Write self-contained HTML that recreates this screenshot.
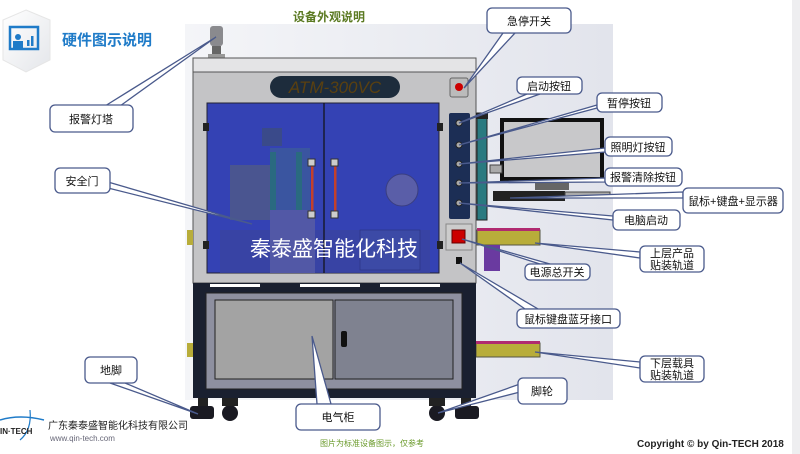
<!DOCTYPE html>
<html><head><meta charset="utf-8"><style>
body{margin:0;width:800px;height:454px;overflow:hidden;background:#fff;font-family:"Liberation Sans","Noto Sans CJK SC",sans-serif}
svg{display:block}
text{font-family:"Liberation Sans","Noto Sans CJK SC",sans-serif}
</style></head><body>
<svg width="800" height="454" viewBox="0 0 800 454" xmlns="http://www.w3.org/2000/svg">
<defs>
<linearGradient id="bg" x1="0" y1="0" x2="1" y2="0"><stop offset="0" stop-color="#f4f5f8"/><stop offset="1" stop-color="#e2e4ec"/></linearGradient>
<linearGradient id="hex" x1="0" y1="0" x2="1" y2="1"><stop offset="0" stop-color="#ffffff"/><stop offset="1" stop-color="#e4e6ea"/></linearGradient>
</defs>
<rect x="792" y="0" width="8" height="454" fill="#eeeef0"/>
<rect x="185" y="24" width="428" height="376" fill="url(#bg)"/>
<polygon points="26,10 50,20 50,60 26,72 3,60 3,20" fill="url(#hex)" stroke="#e6e6e6"/>
<rect x="10" y="27" width="28" height="22" fill="none" stroke="#1f7bc8" stroke-width="2.5"/>
<circle cx="18" cy="37" r="3" fill="#1f7bc8"/><rect x="13" y="41" width="10" height="8" fill="#1f7bc8"/>
<rect x="27" y="40" width="2.5" height="6" fill="#1f7bc8"/><rect x="31" y="36" width="2.5" height="10" fill="#1f7bc8"/>
<text x="62" y="45" font-size="15" font-weight="bold" fill="#1f7bc8">硬件图示说明</text>
<text x="293" y="21" font-size="12" font-weight="bold" fill="#5b7a22">设备外观说明</text>
<rect x="210" y="26" width="13" height="20" rx="3" fill="#8a8a8e"/><rect x="212" y="46" width="9" height="8" fill="#666"/><rect x="208" y="54" width="17" height="4" fill="#999"/>
<rect x="193" y="58" width="283" height="225" fill="#c4c4c6" stroke="#555" stroke-width="1"/>
<rect x="193" y="58" width="283" height="14" fill="#e4e4e6" stroke="#555"/>
<rect x="270" y="76" width="130" height="22" rx="11" fill="#1d2c3c"/>
<text x="335" y="93" font-size="17" font-style="italic" font-family="Liberation Serif,serif" fill="#5a4010" text-anchor="middle">ATM-300VC</text>
<rect x="207" y="103" width="232" height="170" fill="#3442b4" stroke="#223" />
<rect x="220" y="230" width="210" height="43" fill="#3a44a0" opacity=".8"/>
<rect x="230" y="165" width="40" height="55" fill="#4a5590"/>
<rect x="270" y="148" width="40" height="75" fill="#3a55a0"/><rect x="270" y="152" width="6" height="68" fill="#2a6a80"/><rect x="296" y="152" width="6" height="68" fill="#2a6a80"/>
<rect x="262" y="128" width="20" height="18" fill="#3a4a8a"/>
<rect x="270" y="210" width="45" height="63" fill="#5258a6"/>
<rect x="360" y="230" width="60" height="40" fill="#3c4aa6" stroke="#2a3280" stroke-width=".6"/>
<circle cx="402" cy="190" r="16" fill="#5a5ea8" stroke="#3a3e80"/>
<line x1="324" y1="103" x2="324" y2="273" stroke="#111" stroke-width="1.2"/>
<rect x="311" y="163" width="2.5" height="50" fill="#c4402a"/><rect x="334" y="163" width="2.5" height="50" fill="#c4402a"/>
<rect x="308" y="159" width="7" height="7" fill="#ccc" stroke="#333"/><rect x="308" y="211" width="7" height="7" fill="#ccc" stroke="#333"/>
<rect x="331" y="159" width="7" height="7" fill="#ccc" stroke="#333"/><rect x="331" y="211" width="7" height="7" fill="#ccc" stroke="#333"/>
<rect x="203" y="123" width="6" height="8" fill="#222"/><rect x="437" y="123" width="6" height="8" fill="#222"/>
<rect x="203" y="241" width="6" height="8" fill="#222"/><rect x="437" y="241" width="6" height="8" fill="#222"/>
<text x="334" y="256" font-size="21" fill="#fff" text-anchor="middle">秦泰盛智能化科技</text>
<rect x="450" y="78" width="18" height="19" rx="2" fill="#bbb" stroke="#666"/><circle cx="459" cy="87" r="4" fill="#c00"/>
<rect x="449" y="113" width="21" height="106" rx="2" fill="#1c2e55"/>
<g fill="#aaa" stroke="#222"><circle cx="459" cy="123" r="3"/><circle cx="459" cy="145" r="3"/><circle cx="459" cy="164" r="3"/><circle cx="459" cy="183" r="3"/><circle cx="459" cy="203" r="3"/></g>
<rect x="446" y="224" width="26" height="26" fill="#ccc" stroke="#888"/><rect x="452" y="230" width="13" height="13" fill="#c00" stroke="#600"/>
<rect x="456" y="257" width="6" height="7" fill="#111"/>
<rect x="477" y="113" width="10" height="107" fill="#2a7a80" stroke="#222"/>
<rect x="476" y="113" width="12" height="6" fill="#222"/>
<rect x="500" y="118" width="104" height="64" fill="#111"/><rect x="504" y="122" width="96" height="55" fill="#c8c8ca"/>
<rect x="535" y="182" width="34" height="8" fill="#666"/><rect x="490" y="165" width="12" height="8" fill="#aaa" stroke="#444"/>
<rect x="493" y="191" width="72" height="10" fill="#222"/><rect x="565" y="192" width="45" height="6" fill="#aaa" stroke="#444"/>
<rect x="477" y="230" width="63" height="15" fill="#b8ad3a" stroke="#554"/><rect x="477" y="228" width="63" height="3" fill="#b02a70"/>
<rect x="484" y="245" width="16" height="26" fill="#6a3aa0"/>
<rect x="476" y="343" width="64" height="14" fill="#b8ad3a" stroke="#554"/><rect x="476" y="341" width="64" height="3" fill="#b02a70"/>
<rect x="187" y="230" width="6" height="15" fill="#b8ad3a"/><rect x="187" y="343" width="6" height="14" fill="#b8ad3a"/>
<rect x="193" y="283" width="283" height="115" fill="#1a2030"/>
<rect x="206" y="293" width="256" height="96" fill="#8e90a0" stroke="#222"/>
<rect x="215" y="300" width="118" height="79" fill="#a3a3a3" stroke="#222"/>
<rect x="335" y="300" width="118" height="79" fill="#7f8290" stroke="#222"/>
<rect x="341" y="331" width="6" height="16" rx="2" fill="#111"/>
<rect x="210" y="284" width="50" height="3" fill="#fff"/><rect x="300" y="284" width="60" height="3" fill="#fff"/><rect x="380" y="284" width="60" height="3" fill="#fff"/>
<rect x="198" y="398" width="10" height="8" fill="#222"/><rect x="190" y="406" width="24" height="13" rx="3" fill="#1a1a22"/>
<circle cx="230" cy="413" r="8" fill="#1a1a22"/><rect x="222" y="398" width="16" height="8" fill="#222"/>
<circle cx="437" cy="413" r="8" fill="#1a1a22"/><rect x="429" y="398" width="16" height="8" fill="#222"/>
<rect x="461" y="398" width="10" height="8" fill="#222"/><rect x="455" y="406" width="24" height="13" rx="3" fill="#1a1a22"/>
<g fill="#fff" stroke="#4a5a8c" stroke-width="1.3">
<polygon points="105,106 216,37 120,106"/><rect x="50" y="105" width="83" height="27" rx="5"/>
<polygon points="108,182 252,224 108,188"/><rect x="55" y="168" width="55" height="25" rx="5"/>
<polygon points="503,33 464,88 515,33"/><rect x="487" y="8" width="84" height="25" rx="5"/>
<polygon points="527,94 459,123 540,94"/><rect x="517" y="77" width="65" height="17" rx="5"/>
<polygon points="597,105 459,145 597,108"/><rect x="597" y="93" width="65" height="19" rx="5"/>
<polygon points="605,148 459,164 605,152"/><rect x="605" y="137" width="67" height="19" rx="5"/>
<polygon points="605,178 459,183 605,182"/><rect x="605" y="168" width="77" height="18" rx="5"/>
<polygon points="683,192 510,198 683,198"/><rect x="683" y="188" width="100" height="25" rx="5"/>
<polygon points="613,216 459,203 613,220"/><rect x="613" y="210" width="67" height="20" rx="5"/>
<polygon points="640,252 535,243 640,258"/><rect x="640" y="246" width="64" height="26" rx="5"/>
<polygon points="540,264 462,239 550,264"/><rect x="525" y="264" width="65" height="16" rx="5"/>
<polygon points="525,309 460,263 538,309"/><rect x="517" y="309" width="103" height="19" rx="5"/>
<polygon points="640,362 535,352 640,368"/><rect x="640" y="356" width="64" height="26" rx="5"/>
<polygon points="520,384 438,413 520,392"/><rect x="518" y="378" width="49" height="26" rx="5"/>
<polygon points="317,404 312,336 331,404"/><rect x="296" y="404" width="84" height="26" rx="5"/>
<polygon points="110,383 198,414 125,383"/><rect x="85" y="357" width="52" height="26" rx="5"/>
</g>
<g font-size="11" fill="#111" text-anchor="middle">
<text x="91" y="123">报警灯塔</text>
<text x="82" y="185">安全门</text>
<text x="529" y="25">急停开关</text>
<text x="549" y="90">启动按钮</text>
<text x="629" y="107">暂停按钮</text>
<text x="638" y="151">照明灯按钮</text>
<text x="643" y="181">报警清除按钮</text>
<text x="733" y="205">鼠标+键盘+显示器</text>
<text x="646" y="224">电脑启动</text>
<text x="672" y="257">上层产品</text><text x="672" y="269">贴装轨道</text>
<text x="557" y="276">电源总开关</text>
<text x="568" y="323">鼠标键盘蓝牙接口</text>
<text x="672" y="367">下层载具</text><text x="672" y="379">贴装轨道</text>
<text x="542" y="395">脚轮</text>
<text x="338" y="421">电气柜</text>
<text x="111" y="374">地脚</text>
</g>
<path d="M0,420 Q20,414 44,420" fill="none" stroke="#1f7bc8" stroke-width="1.5"/>
<path d="M30,410 Q32,430 20,440" fill="none" stroke="#1f7bc8" stroke-width="1.2"/>
<text x="0" y="434" font-size="8" font-weight="bold" fill="#222">IN·TECH</text>
<text x="48" y="429" font-size="10" fill="#222">广东秦泰盛智能化科技有限公司</text>
<text x="50" y="441" font-size="8" fill="#667" font-family="Liberation Mono,monospace">www.qin-tech.com</text>
<text x="320" y="446" font-size="8" fill="#6a9a2a">图片为标准设备图示，仅参考</text>
<text x="637" y="447" font-size="10" font-weight="bold" fill="#222">Copyright © by Qin-TECH 2018</text>
</svg>
</body></html>
